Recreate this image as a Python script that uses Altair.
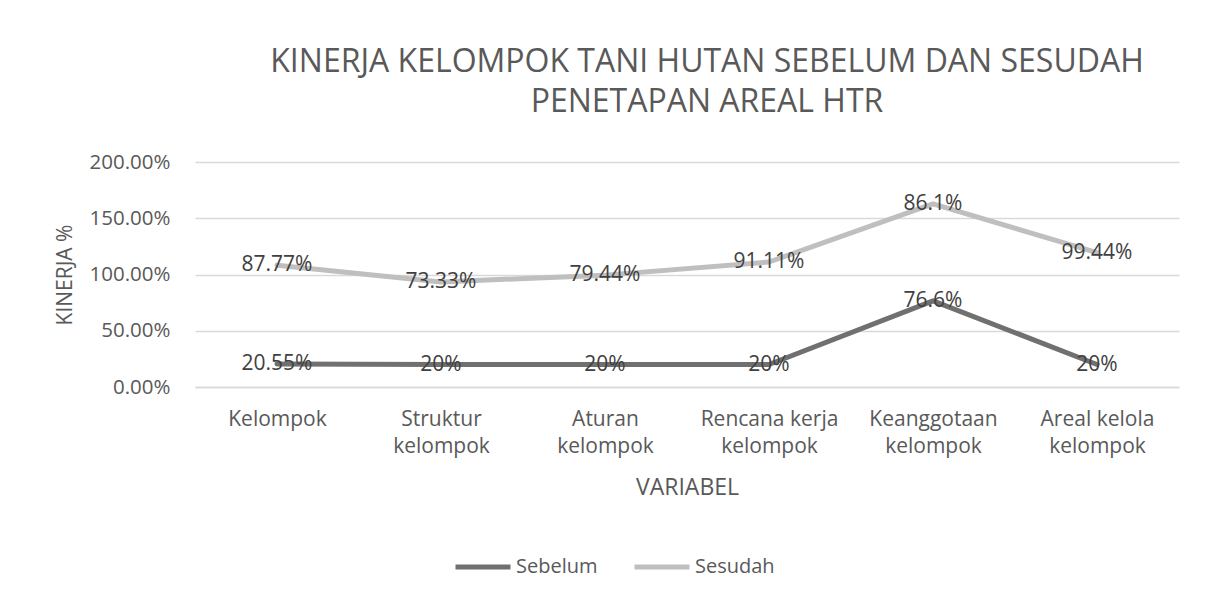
import altair as alt
import pandas as pd

categories = ["Kelompok", "Struktur\nkelompok", "Aturan\nkelompok",
              "Rencana kerja\nkelompok", "Keanggotaan\nkelompok", "Areal kelola\nkelompok"]
series_names = ["Sebelum", "Sesudah"]
sebelum = [20.55, 20, 20, 20, 76.6, 20]
sesudah = [87.77, 73.33, 79.44, 91.11, 86.1, 99.44]
sebelum_labels = ["20.55%", "20%", "20%", "20%", "76.6%", "20%"]
sesudah_labels = ["87.77%", "73.33%", "79.44%", "91.11%", "86.1%", "99.44%"]
y_ticks = [0, 50, 100, 150, 200]

rows = []
for i, c in enumerate(categories):
    rows.append({"cat": c, "series": "Sebelum", "value": sebelum[i], "label": sebelum_labels[i], "ord": 0})
    rows.append({"cat": c, "series": "Sesudah", "value": sesudah[i], "label": sesudah_labels[i], "ord": 1})
df = pd.DataFrame(rows)

FONT = "Open Sans"

base = alt.Chart(df).transform_stack(
    stack="value", groupby=["cat"], as_=["y0", "y1"],
    sort=[alt.SortField("ord", order="ascending")]
)

x = alt.X("cat:N", sort=categories, scale=alt.Scale(type="point", padding=0.5),
          axis=alt.Axis(title="VARIABEL", labelAngle=0, labelExpr="split(datum.value, '\\n')",
                        labelFontSize=21, labelLineHeight=27, labelPadding=21, titlePadding=20,
                        titleFontSize=23,
                        domain=True, domainColor="#d9d9d9", domainWidth=1.5,
                        ticks=False, grid=False))
y = alt.Y("y1:Q", scale=alt.Scale(domain=[0, 200]),
          axis=alt.Axis(title="KINERJA %", values=y_ticks,
                        labelExpr="format(datum.value, '.2f') + '%'",
                        labelFontSize=20.5, titleFontSize=21,
                        domain=False, ticks=False, labelPadding=25, titlePadding=14,
                        grid=True, gridColor="#d9d9d9", gridWidth=1.5))

color = alt.Color("series:N", scale=alt.Scale(domain=series_names, range=["#707070", "#bfbfbf"]),
                  legend=alt.Legend(title=None, orient="none", direction="horizontal",
                                    legendX=258, legendY=375,
                                    symbolType="stroke", symbolSize=3025, symbolStrokeWidth=5,
                                    labelFont=FONT, labelFontSize=20, labelColor="#595959",
                                    labelOffset=3, columnPadding=26))

line = base.mark_line(strokeWidth=5, strokeCap="round", strokeJoin="round").encode(
    x=x, y=y, color=color, detail="series:N")
text = base.mark_text(font=FONT, fontSize=21, color="#404040").encode(
    x=x, y=y, text="label:N")

chart = alt.layer(line, text).properties(
    width=984, height=225,
    autosize=alt.AutoSizeParams(type="none"),
    padding={"left": 187, "top": 154, "right": 21, "bottom": 211},
    title=alt.TitleParams(["KINERJA KELOMPOK TANI HUTAN SEBELUM DAN SESUDAH", "PENETAPAN AREAL HTR"],
                          font=FONT, fontSize=32, fontWeight="normal", color="#595959",
                          lineHeight=40, anchor="middle", dx=20, offset=33)
).configure_view(stroke=None).configure_axis(
    labelFont=FONT, labelColor="#595959",
    titleFont=FONT, titleColor="#595959", titleFontWeight="normal"
)

chart.save("out.html", embed_options={"renderer": "svg", "actions": False})
